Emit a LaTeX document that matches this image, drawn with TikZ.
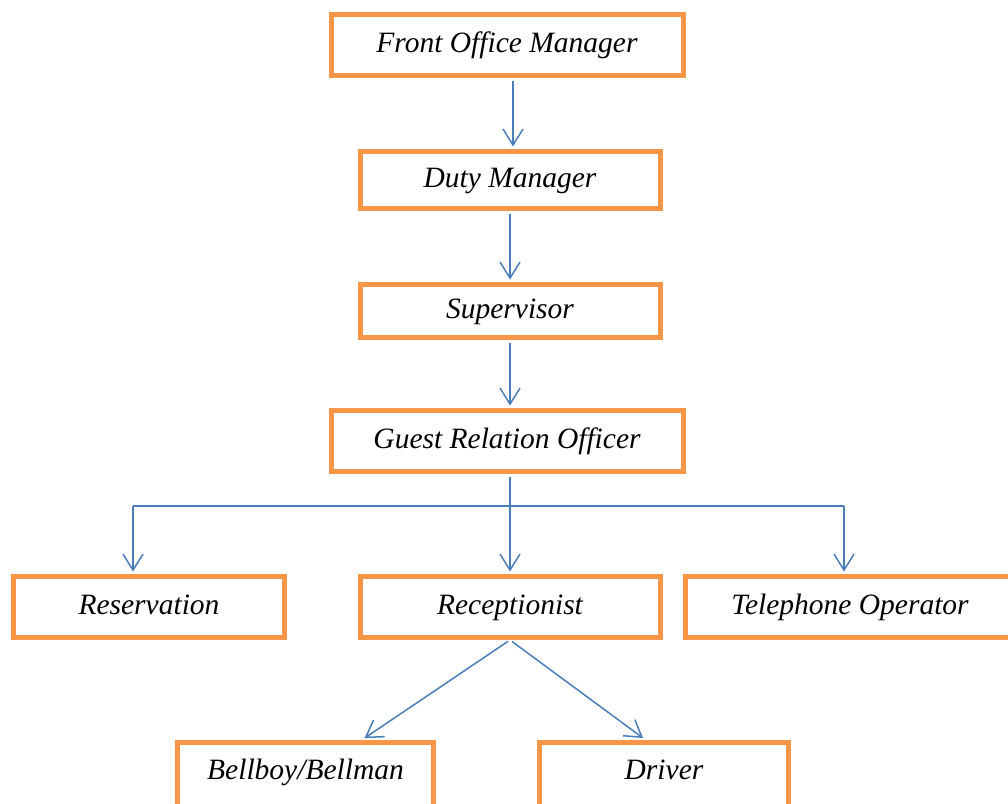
\documentclass[tikz,border=0pt]{standalone}
\usepackage{fontspec}
\setmainfont{Liberation Serif}
\usetikzlibrary{arrows.meta}
\definecolor{boxorange}{RGB}{247,150,70}
\definecolor{linkblue}{RGB}{74,126,187}
\tikzset{
  orgbox/.style={draw=boxorange, line width=5pt, fill=white, inner sep=0pt,
    text height=21pt, text depth=7pt,
    font=\fontsize{29.5}{35}\selectfont\itshape},
  lowbox/.style={orgbox, anchor=north, text height=37.5pt, text depth=45pt},
  conn/.style={draw=linkblue, line width=1.5pt,
    -{Straight Barb[length=16pt,width=20pt,line width=1.5pt]},
    shorten <=2.5pt, shorten >=2.5pt},
  plain/.style={draw=linkblue, line width=1.5pt}
}
\begin{document}
\begin{tikzpicture}[x=1pt,y=-1pt]
\useasboundingbox[fill=white] (0,0) rectangle (1008,803);
\node[orgbox, minimum width=352pt, minimum height=61pt] (fom) at (507,45) {Front Office Manager};
\node[orgbox, minimum width=300pt, minimum height=57pt] (duty) at (510,180) {Duty Manager};
\node[orgbox, minimum width=300pt, minimum height=53pt] (sup) at (510,311) {Supervisor};
\node[orgbox, minimum width=352pt, minimum height=61pt] (gro) at (507,441) {Guest Relation Officer};
\node[orgbox, minimum width=271pt, minimum height=61pt] (res) at (149,607) {Reservation};
\node[orgbox, minimum width=300pt, minimum height=61pt] (rec) at (510,607) {Receptionist};
\node[orgbox, minimum width=329pt, minimum height=61pt] (tel) at (850,607) {Telephone Operator};
\node[lowbox, minimum width=256pt] (bell) at (305.5,739.5) {Bellboy/Bellman};
\node[lowbox, minimum width=249pt] (drv) at (664,739.5) {Driver};
\coordinate (lft) at (133,506);
\coordinate (rgt) at (844,506);
\draw[conn] ([xshift=6pt]fom.south) -- ([xshift=6pt]fom.south |- duty.north);
\draw[conn] (duty.south) -- (sup.north);
\draw[conn] (sup.south) -- (sup.south |- gro.north);
\draw[conn] ([xshift=3pt]gro.south) -- ([xshift=3pt]gro.south |- rec.north);
\draw[plain] (lft) -- (rgt);
\draw[conn, shorten <=0pt] (lft) -- (lft |- res.north);
\draw[conn, shorten <=0pt] (rgt) -- (rgt |- tel.north);
\draw[conn] (rec.south) -- ([xshift=57pt]bell.north);
\draw[conn] (rec.south) -- ([xshift=-19pt]drv.north);
\end{tikzpicture}
\end{document}
